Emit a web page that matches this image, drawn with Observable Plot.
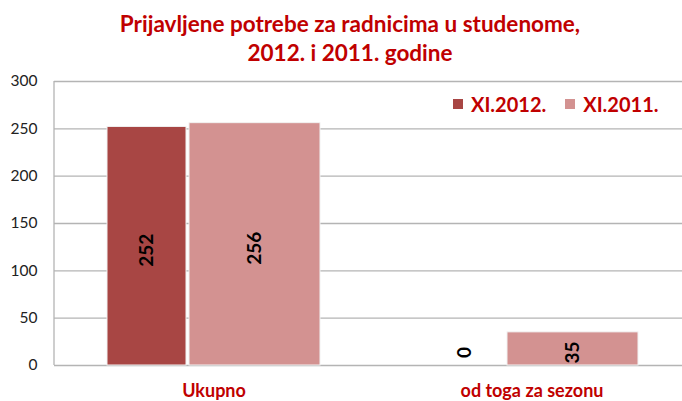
<!DOCTYPE html>
<html><head><meta charset="utf-8">
<script src="https://cdn.jsdelivr.net/npm/d3@7"></script>
<script src="https://cdn.jsdelivr.net/npm/@observablehq/plot@0.6"></script>
<style>
body{margin:0;background:#fff;font-family:Lato,"Open Sans",sans-serif;}
#wrap{position:relative;width:682px;height:401px;}
#title{height:72px;text-align:center;color:#c00000;font-weight:bold;font-size:22.5px;line-height:29px;padding-top:9px;box-sizing:border-box;padding-left:18px;}
#legend{position:absolute;left:453px;top:92px;font-weight:bold;font-size:20px;color:#c00000;display:flex;align-items:center;background:#fff;padding:0 4px 0 0;}
#legend .sw{display:inline-block;width:10px;height:10px;margin-right:8px;}
#legend .it{display:flex;align-items:center;margin-right:19px;}
</style></head>
<body><div id="wrap">
<div id="title">Prijavljene potrebe za radnicima u studenome,<br>2012. i 2011. godine</div>
<div id="chart"></div>
<div id="legend"></div>
</div>
<script>
const categories = ["Ukupno", "od toga za sezonu"];
const seriesNames = ["XI.2012.", "XI.2011."];
const values2012 = [252, 0];
const values2011 = [256, 35];
const yTicks = [0, 50, 100, 150, 200, 250, 300];
const colors = ["#a84644", "#d39291"];

const data = [];
categories.forEach((c, i) => {
  data.push({category: c, series: seriesNames[0], value: values2012[i]});
  data.push({category: c, series: seriesNames[1], value: values2011[i]});
});
const d12 = data.filter(d => d.series === seriesNames[0]);
const d11 = data.filter(d => d.series === seriesNames[1]);

const gridColor = "#b4b4b4";
const chart = Plot.plot({
  width: 682, height: 329,
  marginLeft: 54, marginRight: 0, marginTop: 9, marginBottom: 36,
  style: {fontFamily: "Lato, 'Open Sans', sans-serif", background: "#fff"},
  x: {type: "band", domain: categories, paddingInner: 0.33, paddingOuter: 0.15, align: 0.55, label: null},
  y: {domain: [0, 300], label: null},
  marks: [
    Plot.ruleY(yTicks, {stroke: gridColor, strokeWidth: 1.3}),
    (index, scales, values, dims) => {
      const l = d3.create("svg:line")
        .attr("x1", dims.marginLeft).attr("x2", dims.marginLeft)
        .attr("y1", dims.marginTop).attr("y2", dims.height - dims.marginBottom)
        .attr("stroke", gridColor).attr("stroke-width", 1.3);
      return l.node();
    },
    Plot.barY(d12, {x: "category", y: "value", fill: colors[0], insetRight: 134, stroke: "#f2f2f2", strokeWidth: 1}),
    Plot.barY(d11, {x: "category", y: "value", fill: colors[1], insetLeft: 82, stroke: "#f2f2f2", strokeWidth: 1}),
    Plot.text(d12, {x: "category", y: d => Math.max(d.value / 2, 18), text: d => String(d.value), rotate: -90, dx: -67, dy: 4, fontWeight: "bold", fontSize: 19, fill: "#000"}),
    Plot.text(d11, {x: "category", y: d => Math.max(d.value / 2, 18), text: d => String(d.value), rotate: -90, dx: 41, dy: 4, fontWeight: "bold", fontSize: 19, fill: "#000"}),
    Plot.axisY({ticks: yTicks, tickSize: 0, tickPadding: 17, fontSize: 15.5, fill: "#222", label: null}),
    Plot.axisX({tickSize: 0, tickPadding: 19, fontSize: 18, fontWeight: "bold", fill: "#c00000", label: null})
  ]
});
document.getElementById("chart").appendChild(chart);

const legend = document.getElementById("legend");
seriesNames.forEach((s, i) => {
  const it = document.createElement("span");
  it.className = "it";
  const sw = document.createElement("span");
  sw.className = "sw"; sw.style.background = colors[i];
  it.appendChild(sw);
  it.appendChild(document.createTextNode(s));
  legend.appendChild(it);
});
</script>
</body></html>
